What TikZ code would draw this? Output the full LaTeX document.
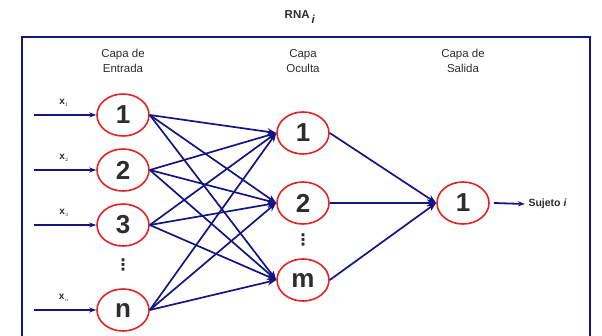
\documentclass[tikz,border=0pt]{standalone}
\usepackage{fontspec}
\setmainfont{Liberation Sans}
\newfontfamily\dejavu{DejaVu Sans}
\usetikzlibrary{arrows.meta,shapes.geometric}
\definecolor{navy}{RGB}{20,20,130}
\definecolor{nred}{RGB}{225,35,35}
\definecolor{txt}{RGB}{45,45,45}
\begin{document}
\begin{tikzpicture}[x=1pt,y=-1pt,
  neuron/.style={ellipse,draw=nred,line width=1.6pt,minimum width=52pt,minimum height=42pt,inner sep=0pt,font=\fontsize{26}{26}\selectfont\bfseries,text=txt},
  conn/.style={draw=navy,line width=1.7pt,-{Stealth[length=9pt,width=7pt]}},
  inarr/.style={draw=navy,line width=1.8pt,-{Stealth[length=7pt,width=5pt]}},
  hdr/.style={align=center,font=\fontsize{11.5}{15}\selectfont,text=txt},
  xlab/.style={font=\fontsize{10}{10}\selectfont\bfseries,text=txt},
  dots/.style={font=\dejavu\fontsize{16}{16}\selectfont\bfseries,text=txt}]
\useasboundingbox (0,0) rectangle (602,335);
\draw[navy,line width=2pt] (22,338) -- (22,37) -- (590,37) -- (590,338);
\node[font=\fontsize{11.5}{11.5}\selectfont\bfseries,text=txt] (title) at (300,17) {RNA\,$_{\scriptstyle\textit{i}}$};
\node[hdr] (h1) at (123,61) {Capa de\\Entrada};
\node[hdr] (h2) at (303,61) {Capa\\Oculta};
\node[hdr] (h3) at (463,61) {Capa de\\Salida};
\node[neuron] (i1) at (123,115) {1};
\node[neuron] (i2) at (123,170) {2};
\node[neuron] (i3) at (123,225) {3};
\node[neuron] (in) at (123,310) {n};
\node[neuron] (o1) at (303,133) {1};
\node[neuron] (o2) at (303,203) {2};
\node[neuron] (om) at (303,280) {m};
\node[neuron] (y1) at (463,203) {1};
\node[dots] (d1) at (123,265) {⋮};
\node[dots] (d2) at (303,240) {⋮};
\foreach \n/\y/\l in {i1/115/1,i2/170/2,i3/225/3,in/310/n}{
  \coordinate (s\n) at (34,\y);
  \draw[inarr] (s\n) -- (\n.west);
  \node[xlab] (l\n) at (64,\y-12) {x$_{\scriptscriptstyle\l}$};
}
\foreach \a in {i1,i2,i3,in}{
  \foreach \b in {o1,o2,om}{
    \draw[conn] (\a.east) -- (\b.west);
  }
}
\foreach \b in {o1,o2,om}{\draw[conn] (\b.east) -- (y1.west);}
\node[font=\fontsize{10.5}{10.5}\selectfont\bfseries,text=txt,anchor=west] (suj) at (525,204) {Sujeto \textit{i}};
\coordinate (ys) at ([xshift=4pt]y1.east);
\draw[inarr] (ys) -- (suj.west);
\end{tikzpicture}
\end{document}
